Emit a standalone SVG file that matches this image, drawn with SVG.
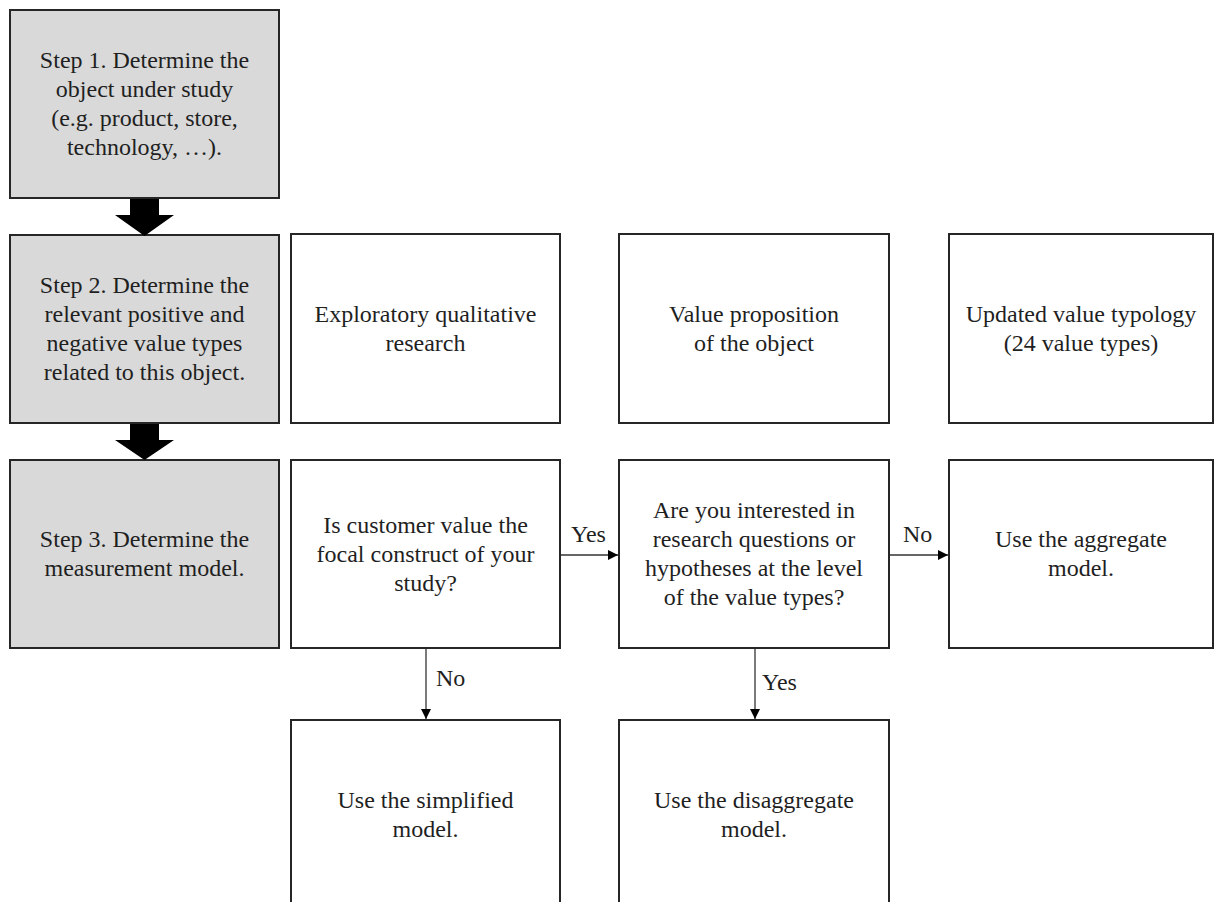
<svg xmlns="http://www.w3.org/2000/svg" width="1215" height="902" viewBox="0 0 1215 902">
<style>
.step{fill:#d9d9d9;stroke:#262626;stroke-width:2}
.box{fill:#ffffff;stroke:#262626;stroke-width:2}
text{font-family:"Liberation Serif","Times New Roman",serif;font-size:24px;fill:#1f1f1f;text-anchor:middle}
.lbl{text-anchor:start}
.conn{stroke:#333333;stroke-width:1.3;fill:none}
.big{fill:#000000}
</style>
<defs>
<marker id="ah" viewBox="0 0 10 10" refX="10" refY="5" markerWidth="10" markerHeight="10" markerUnits="userSpaceOnUse" orient="auto">
<path d="M0,0 L10,5 L0,10 z" fill="#000"/>
</marker>
</defs>
<rect width="1215" height="902" fill="#ffffff"/>

<g id="step1">
<rect class="step" x="10" y="10" width="269" height="188"/>
<text x="144.5" y="68">Step 1. Determine the</text>
<text x="144.5" y="97">object under study</text>
<text x="144.5" y="126">(e.g. product, store,</text>
<text x="144.5" y="155">technology, …).</text>
</g>

<g id="step2">
<rect class="step" x="10" y="235" width="269" height="188"/>
<text x="144.5" y="293">Step 2. Determine the</text>
<text x="144.5" y="322">relevant positive and</text>
<text x="144.5" y="351">negative value types</text>
<text x="144.5" y="380">related to this object.</text>
</g>

<g id="step3">
<rect class="step" x="10" y="460" width="269" height="188"/>
<text x="144.5" y="547">Step 3. Determine the</text>
<text x="144.5" y="576">measurement model.</text>
</g>

<g id="exploratory">
<rect class="box" x="291" y="234" width="269" height="189"/>
<text x="425.5" y="322">Exploratory qualitative</text>
<text x="425.5" y="351">research</text>
</g>

<g id="proposition">
<rect class="box" x="619" y="234" width="270" height="189"/>
<text x="754" y="322">Value proposition</text>
<text x="754" y="351">of the object</text>
</g>

<g id="typology">
<rect class="box" x="949" y="234" width="264" height="189"/>
<text x="1081" y="322">Updated value typology</text>
<text x="1081" y="351">(24 value types)</text>
</g>

<g id="focal">
<rect class="box" x="291" y="460" width="269" height="188"/>
<text x="425.5" y="533">Is customer value the</text>
<text x="425.5" y="562">focal construct of your</text>
<text x="425.5" y="591">study?</text>
</g>

<g id="interest">
<rect class="box" x="619" y="460" width="270" height="188"/>
<text x="754" y="518">Are you interested in</text>
<text x="754" y="547">research questions or</text>
<text x="754" y="576">hypotheses at the level</text>
<text x="754" y="605">of the value types?</text>
</g>

<g id="aggregate">
<rect class="box" x="949" y="460" width="264" height="188"/>
<text x="1081" y="547">Use the aggregate</text>
<text x="1081" y="576">model.</text>
</g>

<g id="simplified">
<rect class="box" x="291" y="720" width="269" height="190"/>
<text x="425.5" y="808">Use the simplified</text>
<text x="425.5" y="837">model.</text>
</g>

<g id="disaggregate">
<rect class="box" x="619" y="720" width="270" height="190"/>
<text x="754" y="808">Use the disaggregate</text>
<text x="754" y="837">model.</text>
</g>

<g id="connectors">
<polygon class="big" points="130,199 159,199 159,215 174,215 144.5,236 115,215 130,215"/>
<polygon class="big" points="130,424 159,424 159,440 174,440 144.5,460 115,440 130,440"/>
<line class="conn" x1="561" y1="555" x2="618" y2="555" marker-end="url(#ah)"/>
<line class="conn" x1="890" y1="555" x2="948" y2="555" marker-end="url(#ah)"/>
<line class="conn" x1="426" y1="649" x2="426" y2="719" marker-end="url(#ah)"/>
<line class="conn" x1="755" y1="649" x2="755" y2="719" marker-end="url(#ah)"/>
<text class="lbl" x="571" y="542">Yes</text>
<text class="lbl" x="903" y="542">No</text>
<text class="lbl" x="436" y="686">No</text>
<text class="lbl" x="762" y="690">Yes</text>
</g>
</svg>
